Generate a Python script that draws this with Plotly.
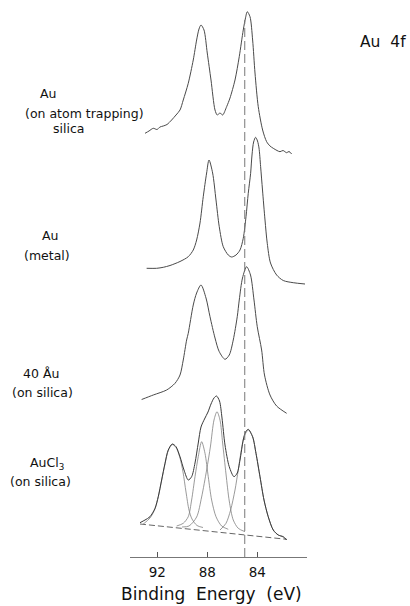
import plotly.graph_objects as go

# ---------------- data (binding energy in eV, intensity in arbitrary units) -------------
TOP_E = [92.98, 92.66, 92.32, 92.02, 91.78, 91.52, 91.22, 90.85, 90.50, 90.18, 89.92, 89.52,
         89.12, 88.85, 88.66, 88.50, 88.26, 88.00, 87.70, 87.38, 87.20, 86.98, 86.77, 86.45,
         86.18, 85.78, 85.44, 85.12, 84.94, 84.80, 84.58, 84.37, 84.18, 83.92, 83.57, 83.25,
         82.98, 82.72, 82.42, 82.18, 81.94, 81.65, 81.46, 81.25]
TOP_I = [21.7, 24.0, 26.7, 25.5, 28.0, 29.0, 30.5, 35.0, 40.0, 45.0, 55.0, 71.7,
         95.0, 115.0, 126.0, 130.0, 125.0, 102.0, 75.0, 45.0, 40.0, 42.0, 40.0, 48.3,
         57.0, 75.0, 98.3, 125.0, 137.0, 143.3, 138.3, 115.0, 82.0, 48.3, 25.0, 13.3,
         9.0, 6.7, 4.5, 3.3, 4.5, 2.3, 3.5, 1.0]

METAL_E = [92.85, 92.05, 91.52, 90.98, 90.18, 89.52, 89.12, 88.85, 88.58, 88.32, 88.05, 87.86,
           87.57, 87.30, 87.04, 86.72, 86.32, 86.05, 85.70, 85.38, 85.12, 84.90, 84.72, 84.53,
           84.42, 84.29, 84.13, 83.98, 83.86, 83.73, 83.58, 83.38, 83.20, 82.94, 82.45, 81.92,
           81.12, 80.18]
METAL_I = [16.7, 16.7, 17.7, 19.5, 23.5, 28.3, 35.0, 45.0, 62.0, 88.3, 112.0, 125.0,
           112.0, 85.0, 58.3, 38.3, 30.0, 28.0, 30.0, 35.0, 46.7, 68.3, 91.7, 111.7,
           130.0, 143.0, 147.7, 144.0, 137.0, 118.3, 95.0, 65.0, 41.7, 22.0, 10.0, 4.5,
           2.3, 1.0]

FILM_E = [93.25, 92.32, 91.25, 90.58, 90.18, 89.92, 89.65, 89.52, 89.12, 88.85, 88.50, 88.10,
          87.78, 87.38, 87.04, 86.58, 86.24, 85.92, 85.60, 85.44, 85.18, 84.85, 84.54, 84.26,
          84.00, 83.65, 83.42, 82.98, 82.45, 81.65]
FILM_I = [15.5, 20.0, 25.0, 31.7, 40.0, 55.0, 75.0, 81.7, 110.0, 122.0, 130.0, 117.0,
          98.3, 77.0, 63.3, 55.7, 60.0, 75.0, 98.3, 115.0, 137.0, 148.3, 140.0, 115.0,
          88.3, 65.0, 40.0, 20.0, 9.0, 1.7]

AUCL3_ENV_E = [93.38, 92.98, 92.58, 92.18, 91.92, 91.65, 91.38, 91.12, 90.80, 90.50, 90.18, 89.86,
               89.52, 89.25, 88.98, 88.72, 88.50, 88.22, 87.94, 87.70, 87.46, 87.26, 87.02, 86.82,
               86.58, 86.24, 85.86, 85.60, 85.38, 85.12, 84.94, 84.72, 84.37, 84.10, 83.78, 83.46,
               83.12, 82.72, 82.32, 81.92, 81.65]
AUCL3_ENV_I = [17.3, 20.0, 23.3, 31.7, 43.3, 60.0, 76.7, 90.0, 96.0, 93.3, 83.3, 70.0,
               60.0, 63.3, 77.0, 97.0, 113.0, 121.0, 128.0, 136.0, 142.0, 144.0, 139.0, 122.0,
               95.0, 73.3, 63.3, 67.0, 80.0, 100.0, 108.0, 110.7, 103.3, 86.7, 63.3, 40.0,
               23.3, 10.0, 5.0, 3.3, 0.0]

AUCL3_C1_E = [93.14, 92.58, 92.18, 91.92, 91.65, 91.38, 91.12, 90.80, 90.50, 90.18, 89.94, 89.70,
              89.46, 89.22, 88.82, 88.34]
AUCL3_C1_I = [15.7, 22.0, 31.0, 43.0, 59.5, 76.0, 89.5, 95.5, 92.5, 82.0, 68.0, 48.0,
              30.0, 21.0, 14.5, 12.5]

AUCL3_C2_E = [90.45, 89.92, 89.52, 89.25, 88.98, 88.72, 88.45, 88.18, 87.92, 87.65, 87.30, 86.85,
              86.32]
AUCL3_C2_I = [14.0, 16.7, 23.3, 40.0, 63.3, 83.3, 98.3, 86.7, 63.3, 40.0, 23.3, 14.0,
              10.7]

AUCL3_C3_E = [90.02, 89.46, 88.85, 88.45, 88.05, 87.74, 87.46, 87.22, 86.98, 86.77, 86.50, 86.24,
              85.92, 85.52, 84.98]
AUCL3_C3_I = [13.0, 14.0, 23.0, 43.0, 70.0, 94.0, 120.0, 128.3, 120.0, 97.0, 66.0, 39.0,
              20.0, 11.7, 8.3]

AUCL3_C4_E = [86.98, 86.50, 86.13, 85.78, 85.52, 85.30, 85.06, 84.72, 84.37, 84.10, 83.78, 83.46,
              83.12, 82.72, 82.32, 81.92, 81.65]
AUCL3_C4_I = [10.0, 16.7, 30.0, 50.0, 70.0, 88.0, 103.0, 110.0, 103.0, 86.5, 63.0, 40.0,
              23.0, 10.0, 5.0, 3.0, 0.5]

AUCL3_BG_E = [93.38, 81.65]
AUCL3_BG_I = [16.0, 0.7]

# vertical stacking offsets of the four spectra
OFFSETS = {"top": 402, "metal": 272, "film": 142, "aucl3": 17}

REF_ENERGY = 85.0          # dashed reference line (eV)
REF_TOP = 537              # top of the dashed reference line (y units)

X_TICKS = [92, 88, 84]
X_RANGE = [94.18, 80.02]
Y_RANGE = [0, 557]

LABELS = [
    ("Au", 48, 94), ("(on atom trapping)", 84, 113), ("silica", 68, 128),
    ("Au", 50, 235), ("(metal)", 47, 255),
    ("40 Åu", 41, 373), ("(on silica)", 42, 392),
    ("AuCl<sub>3</sub>", 47, 463), ("(on silica)", 40, 481),
]

# ---------------- figure ----------------
W, H = 410, 606
ML, MR, MT, MB = 130, 103, 0, 49
PW, PH = W - ML - MR, H - MT - MB

FONT = "DejaVu Sans"
LINE = "#4a4a4a"

fig = go.Figure()


def add_curve(e, i, off, color=LINE, width=1.0, dash="solid", shape="spline"):
    fig.add_trace(go.Scatter(
        x=e, y=[v + off for v in i], mode="lines",
        line=dict(color=color, width=width, dash=dash, shape=shape, smoothing=0.8),
        hoverinfo="skip", showlegend=False))


add_curve(TOP_E, TOP_I, OFFSETS["top"])
add_curve(METAL_E, METAL_I, OFFSETS["metal"])
add_curve(FILM_E, FILM_I, OFFSETS["film"])
add_curve(AUCL3_BG_E, AUCL3_BG_I, OFFSETS["aucl3"], color="#666", dash="6px,3px", shape="linear")
for ce, ci in [(AUCL3_C1_E, AUCL3_C1_I), (AUCL3_C2_E, AUCL3_C2_I),
               (AUCL3_C3_E, AUCL3_C3_I), (AUCL3_C4_E, AUCL3_C4_I)]:
    add_curve(ce, ci, OFFSETS["aucl3"], color="#808080", width=0.8)
add_curve(AUCL3_ENV_E, AUCL3_ENV_I, OFFSETS["aucl3"], color="#3a3a3a", width=1.0)

# dashed reference line
fig.add_trace(go.Scatter(
    x=[REF_ENERGY, REF_ENERGY], y=[0, REF_TOP], mode="lines",
    line=dict(color="#777", width=1, dash="9px,4px"),
    hoverinfo="skip", showlegend=False))

annotations = []
for txt, cx, cy in LABELS:
    annotations.append(dict(
        text=txt, x=(cx - ML) / PW, y=(H - MB - cy) / PH, xref="paper", yref="paper",
        xanchor="center", yanchor="middle", showarrow=False,
        font=dict(family=FONT, size=12.5, color="#111")))
annotations.append(dict(
    text="Au  4f", x=(383 - ML) / PW, y=(H - MB - 42) / PH, xref="paper", yref="paper",
    xanchor="center", yanchor="middle", showarrow=False,
    font=dict(family=FONT, size=15.5, color="#111")))
annotations.append(dict(
    text="Binding  Energy  (eV)", x=(211 - ML) / PW, y=(H - MB - 594) / PH,
    xref="paper", yref="paper", xanchor="center", yanchor="middle", showarrow=False,
    borderpad=0, font=dict(family=FONT, size=17, color="#111")))

fig.update_layout(
    width=W, height=H, margin=dict(l=ML, r=MR, t=MT, b=MB),
    paper_bgcolor="white", plot_bgcolor="white",
    annotations=annotations,
    xaxis=dict(range=X_RANGE, tickvals=X_TICKS, ticktext=[str(t) for t in X_TICKS],
               ticks="inside", ticklen=5, tickcolor="#555", showline=True,
               linecolor="#777", linewidth=1, showgrid=False, zeroline=False,
               tickfont=dict(family=FONT, size=13.5, color="#111"),
               ticklabelstandoff=3),
    yaxis=dict(range=Y_RANGE, visible=False, showgrid=False, zeroline=False),
)

fig.write_html(
    "out.html",
    config={"displayModeBar": False},
    post_script="document.body.style.margin='0px';document.body.style.overflow='hidden';",
)
